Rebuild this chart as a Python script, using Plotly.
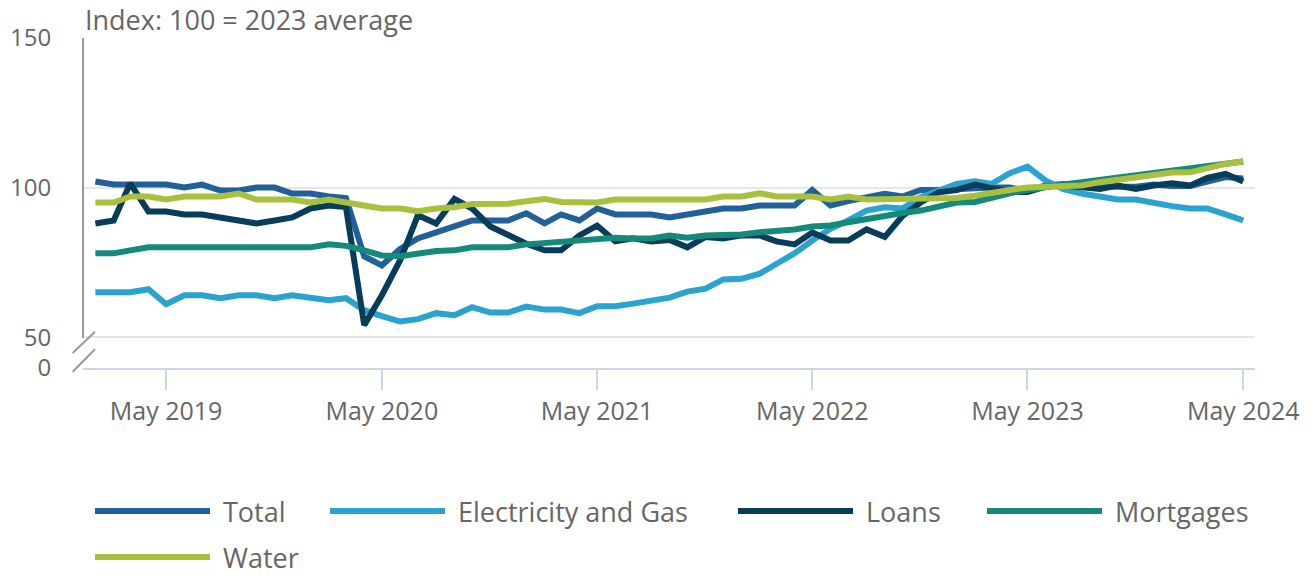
import pandas as pd
import plotly.graph_objects as go

# ---------------- data ----------------
months = pd.date_range("2019-01-01", periods=65, freq="MS")

total = [102, 101, 101, 101, 101, 100, 101, 99, 99, 100, 100, 98, 98, 97, 96.5,
         77, 74, 79.5, 83, 85, 87, 89, 89, 89, 91.4, 88, 91, 89, 93, 91, 91, 91, 90,
         91, 92, 93, 93, 94, 94, 94, 99.2, 94, 95.5, 96.5, 97.9, 97, 99.2, 99.2, 99.5,
         100, 100, 100, 99, 100.7, 101.2, 100.7, 100.3, 100.3, 100.3, 101, 100.5,
         100.5, 102, 103.5, 103]
electricity = [65, 65, 65, 66, 61, 64, 64, 63, 64, 64, 63, 64, 63, 62.3, 63,
               59, 57, 55.2, 56, 58, 57.3, 60, 58.2, 58.2, 60.2, 59.2, 59.2, 58, 60.3,
               60.3, 61.2, 62.1, 63.2, 65.2, 66.2, 69.3, 69.5, 71.2, 74.6, 78, 82.3,
               86.2, 89, 92.3, 93.4, 93, 96.8, 99.2, 101.2, 102.1, 101.2, 104.8, 107,
               102.3, 99.5, 98, 96.8, 96, 96, 94.8, 93.8, 93, 93, 91, 89]
loans = [88, 89, 101.4, 92, 92, 91, 91, 90, 89, 88, 89, 90, 93, 94, 93.5,
         54, 64, 75.7, 90.7, 88, 96.2, 93, 87, 84, 81.2, 79, 79, 84, 87.3, 82, 83,
         82, 82.5, 80, 83.5, 83, 84, 84, 82, 81, 85, 82.3, 82.3, 86, 83.5, 90.5, 95,
         98.4, 99.2, 101, 100, 98.5, 98.5, 100.3, 100.7, 100, 99.5, 100.7, 99.5,
         100.7, 101.4, 100.7, 103.2, 104.6, 102]
mortgages = [78, 78, 79, 80, 80, 80, 80, 80, 80, 80, 80, 80, 80, 81, 80.5,
             79, 77.3, 77, 78, 78.8, 79, 80, 80, 80, 81, 81.4, 82, 82.3, 82.9, 83.2,
             83, 83, 84, 83.2, 84, 84, 84.3, 85.1, 85.3, 86, 87, 87.3, 88.4, 89.6,
             90.7, 91.5, 92.3, 93.4, 95, 95.2, 96.8, 98.1, 99.2, 100.3, 101, 101.8,
             102.6, 103.4, 104.3, 105.1, 105.9, 106.2, 107, 107.9, 108.7]
water = [95, 95, 97, 97, 96, 97, 97, 97, 98, 96, 96, 96, 95, 96, 95,
         94, 93, 93, 92.1, 93, 93.4, 94.5, 94.6, 94.6, 95.4, 96.2, 95.2, 95, 95, 96,
         96, 96, 96, 96, 96, 97, 97, 98.1, 97, 97, 97, 96, 97, 96, 96, 96, 96, 96,
         96.5, 97.3, 98.4, 99.2, 100, 100.1, 100.3, 100.7, 101.8, 102.6, 103.4,
         104.3, 105, 105.1, 106.6, 107.9, 108.8]

series_names = ["Total", "Electricity and Gas", "Loans", "Mortgages", "Water"]
series_values = [total, electricity, loans, mortgages, water]
colors = ["#22609a", "#2aa3d1", "#073d5a", "#15897a", "#a8c03d"]

y_tick_vals = [39.67, 50, 100, 150]
y_tick_text = ["0", "50", "100", "150"]
title_text = "Index: 100 = 2023 average"

# ---------------- layout helpers ----------------
W, H = 1312, 575
L, T = 83, 38
PLOT_RIGHT, PLOT_BOTTOM = 1255, 368
R, B = W - PLOT_RIGHT, H - PLOT_BOTTOM
PW, PH = W - L - R, H - T - B
FONT = "Open Sans"
TXT = "#666666"


def px(x):
    return (x - L) / PW


def py(y):
    return (PLOT_BOTTOM - y) / PH


fig = go.Figure()
for name, vals, col in zip(series_names, series_values, colors):
    fig.add_trace(go.Scatter(x=months, y=vals, name=name, mode="lines",
                             line=dict(color=col, width=6), showlegend=False))

shapes = []
annotations = []
# y axis line with break marks
shapes.append(dict(type="line", xref="paper", yref="paper", x0=0, x1=0,
                   y0=py(338), y1=1, line=dict(color="#999999", width=2)))
for (x0, y0, x1, y1) in [(72.7, 353, 95, 331.7), (72.7, 371.7, 95, 349.3)]:
    shapes.append(dict(type="line", xref="paper", yref="paper",
                       x0=px(x0), y0=py(y0), x1=px(x1), y1=py(y1),
                       line=dict(color="#999999", width=2)))

# custom legend
legend_pos = [(95, 511), (330, 511), (738, 511), (987, 511), (95, 557)]
for name, col, (lx, ly) in zip(series_names, colors, legend_pos):
    shapes.append(dict(type="line", xref="paper", yref="paper",
                       x0=px(lx), x1=px(lx + 115), y0=py(ly), y1=py(ly),
                       line=dict(color=col, width=6)))
    annotations.append(dict(text=name, xref="paper", yref="paper",
                            x=px(lx + 126), y=py(ly), xanchor="left",
                            yanchor="middle", showarrow=False,
                            font=dict(family=FONT, size=27, color=TXT)))

annotations.append(dict(text=title_text, xref="paper", yref="paper", x=0, y=1,
                        xanchor="left", yanchor="bottom", yshift=-2, xshift=0,
                        showarrow=False,
                        font=dict(family=FONT, size=27, color=TXT)))

fig.update_layout(
    width=W, height=H,
    margin=dict(l=L, r=R, t=T, b=B, pad=0, autoexpand=False),
    plot_bgcolor="white", paper_bgcolor="white",
    font=dict(family=FONT, size=24, color=TXT),
    shapes=shapes, annotations=annotations,
    hovermode=False,
    xaxis=dict(
        type="date", automargin=False,
        range=["2018-12-11", "2024-05-21"],
        tick0="2019-05-01", dtick="M12", tickformat="%b %Y",
        showgrid=False, zeroline=False,
        showline=True, linecolor="#ccd6eb", linewidth=2,
        ticks="outside", ticklen=20, tickcolor="#ccd6eb", tickwidth=2,
        tickfont=dict(family=FONT, size=25, color=TXT),
    ),
    yaxis=dict(
        automargin=False,
        range=[39.67, 150],
        tickmode="array", tickvals=y_tick_vals, ticktext=y_tick_text,
        showgrid=True, gridcolor="#e6e6e6", gridwidth=2,
        zeroline=False, showline=False,
        ticks="outside", ticklen=26, tickcolor="rgba(0,0,0,0)",
        tickfont=dict(family=FONT, size=24, color=TXT),
    ),
)

# remove the browser's default 8px body margin so the figure fills the window
fig.write_html("out.html",
               config={"displayModeBar": False},
               post_script="document.body.style.margin='0';"
                           "document.body.style.overflow='hidden';")
